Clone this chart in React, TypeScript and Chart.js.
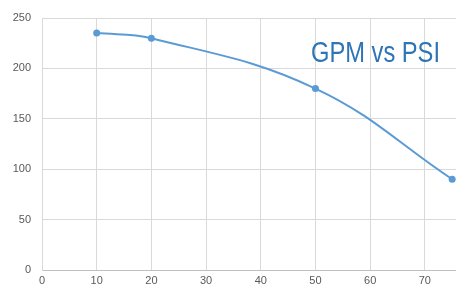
import React, { useEffect, useRef } from "react";
import { Chart, registerables } from "chart.js";

Chart.register(...registerables);

const psi = [10, 20, 50, 75];
const gpm = [235, 230, 180, 90];
const xTicks = [0, 10, 20, 30, 40, 50, 60, 70];
const yTicks = [0, 50, 100, 150, 200, 250];
const titleText = "GPM vs PSI";

const titlePlugin = {
  id: "insideTitle",
  afterDraw(chart: any) {
    const ctx = chart.ctx;
    ctx.save();
    ctx.font = "30px 'Liberation Sans Narrow', 'Liberation Sans', Arial, sans-serif";
    ctx.fillStyle = "#2E75B6";
    ctx.textBaseline = "alphabetic";
    ctx.textAlign = "left";
    const w = ctx.measureText(titleText).width;
    const target = 129;
    const sx = target / w;
    ctx.translate(311, 62);
    ctx.scale(sx, 1);
    ctx.fillText(titleText, 0, 0);
    ctx.restore();
  },
};

export default function App() {
  const ref = useRef<HTMLCanvasElement | null>(null);
  useEffect(() => {
    if (!ref.current) return;
    const chart = new Chart(ref.current, {
      type: "line",
      data: {
        datasets: [
          {
            data: psi.map((x, i) => ({ x, y: gpm[i] })),
            borderColor: "#5B9BD5",
            backgroundColor: "#5B9BD5",
            borderWidth: 2,
            pointRadius: 3.5,
            pointBorderWidth: 0,
            tension: 0.4,
            fill: false,
            clip: false,
          },
        ],
      },
      options: {
        animation: false,
        responsive: true,
        maintainAspectRatio: false,
        layout: { autoPadding: false, padding: { top: 18, left: 0, right: 0, bottom: 0 } },
        plugins: { legend: { display: false }, tooltip: { enabled: false }, title: { display: false } },
        scales: {
          x: {
            type: "linear",
            min: 0,
            max: 75.7,
            afterBuildTicks: (s: any) => {
              s.ticks = xTicks.map((v) => ({ value: v }));
            },
            afterFit: (s: any) => {
              s.height = 19;
              s.paddingRight = 0;
              s.paddingLeft = 0;
            },
            grid: { color: "#D9D9D9", drawTicks: false, lineWidth: 1 },
            border: { color: "#BFBFBF" },
            ticks: {
              color: "#595959",
              font: { family: "'Liberation Sans', Arial, sans-serif", size: 11 },
              padding: 4,
              maxRotation: 0,
            },
          },
          y: {
            type: "linear",
            min: 0,
            max: 250,
            afterBuildTicks: (s: any) => {
              s.ticks = yTicks.map((v) => ({ value: v }));
            },
            afterFit: (s: any) => {
              s.width = 42;
            },
            grid: { color: "#D9D9D9", drawTicks: false, lineWidth: 1 },
            border: { color: "#D9D9D9" },
            ticks: {
              color: "#595959",
              font: { family: "'Liberation Sans', Arial, sans-serif", size: 11 },
              padding: 11,
            },
          },
        },
      },
      plugins: [titlePlugin],
    } as any);
    return () => chart.destroy();
  }, []);
  return (
    <div style={{ position: "absolute", left: 0, top: 0, width: 456, height: 289, background: "#fff" }}>
      <canvas ref={ref} />
    </div>
  );
}
